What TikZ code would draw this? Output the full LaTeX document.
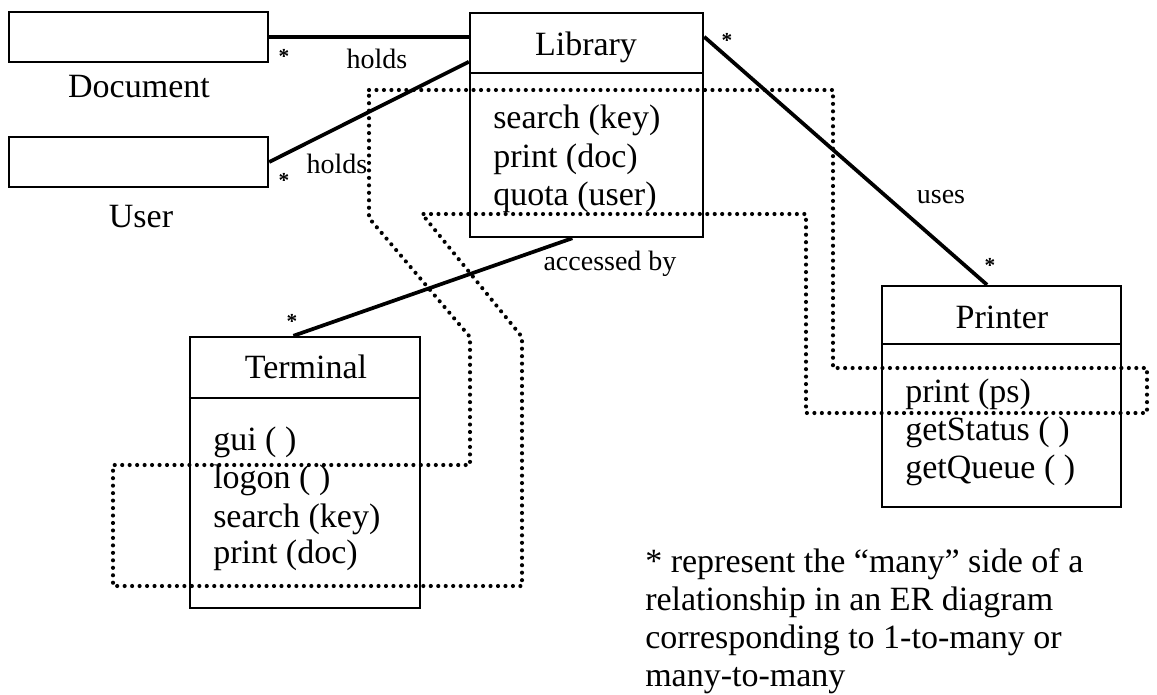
\documentclass[tikz,border=0pt]{standalone}
\usepackage{fontspec}
\setmainfont{Liberation Serif}
\usetikzlibrary{calc}
\begin{document}
\begin{tikzpicture}[x=0.75pt,y=-0.75pt,
  classbox/.style={draw,line width=1.8pt,rectangle,inner sep=0pt},
  link/.style={line width=2.8pt},
  divider/.style={line width=1.8pt},
  dots/.style={line width=3.1pt,line cap=round,dash pattern=on 0pt off 5.6pt},
  big/.style={font=\fontsize{25.5}{30}\selectfont,inner sep=0pt},
  small/.style={font=\fontsize{21}{25}\selectfont,inner sep=0pt},
  many/.style={font=\bfseries\fontsize{16}{20}\selectfont,inner sep=0pt},
]
\useasboundingbox (0,0) rectangle (1157,694);

% dotted outline grouping the operations
\draw[dots] (369,90) -- (833,90) -- (833,368) -- (1147,368) -- (1147,413)
  -- (806,413) -- (806,214) -- (422,214) -- (522,337) -- (522,586)
  -- (113,586) -- (113,465) -- (470,465) -- (470,337) -- (369,218) -- cycle;

% entity boxes
\node[classbox,minimum width=194.25pt,minimum height=37.5pt] (doc) at (138.5,37) {};
\node[classbox,minimum width=194.25pt,minimum height=37.5pt] (user) at (138.5,162) {};
\node[classbox,minimum width=174.75pt,minimum height=168pt] (lib) at (586.5,125) {};
\node[classbox,minimum width=172.5pt,minimum height=203.25pt] (term) at (305,472.5) {};
\node[classbox,minimum width=179.25pt,minimum height=165.75pt] (prn) at (1001.5,396.5) {};

% header dividers
\coordinate (libdiv) at (0,73);
\coordinate (termdiv) at (0,398);
\coordinate (prndiv) at (0,344);
\draw[divider] (lib.west |- libdiv) -- (lib.east |- libdiv);
\draw[divider] (term.west |- termdiv) -- (term.east |- termdiv);
\draw[divider] (prn.west |- prndiv) -- (prn.east |- prndiv);

% box captions
\node[big,anchor=base] (doclbl) at (139,97) {Document};
\node[big,anchor=base] (userlbl) at (141,227) {User};

\node[big,anchor=base] (libtitle) at (586,55) {Library};
\node[big,anchor=base west] (lib1) at (493,128) {search (key)};
\node[big,anchor=base west] (lib2) at (493,167) {print (doc)};
\node[big,anchor=base west] (lib3) at (493,205) {quota (user)};

\node[big,anchor=base] (termtitle) at (306,378) {Terminal};
\node[big,anchor=base west] (term1) at (213,450) {gui ( )};
\node[big,anchor=base west] (term2) at (213,488) {logon ( )};
\node[big,anchor=base west] (term3) at (213,527) {search (key)};
\node[big,anchor=base west] (term4) at (213,563) {print (doc)};

\node[big,anchor=base] (prntitle) at (1002,328) {Printer};
\node[big,anchor=base west] (prn1) at (905,402) {print (ps)};
\node[big,anchor=base west] (prn2) at (905,440) {getStatus ( )};
\node[big,anchor=base west] (prn3) at (905,478) {getQueue ( )};

% relationships
\draw[link] (doc.east) -- (doc.east -| lib.west);
\draw[link] (user.east) -- ($(lib.north west)+(0,50)$);
\draw[link] ($(term.north west)!0.45!(term.north east)$) -- ($(lib.south west)!0.44!(lib.south east)$);
\draw[link] ($(lib.north east)+(0,25)$) -- ($(prn.north west)!0.44!(prn.north east)$);

% relationship labels
\node[small,anchor=base] (r1) at (377,68) {holds};
\node[small,anchor=base] (r2) at (337,173) {holds};
\node[small,anchor=base] (r3) at (941,203) {uses};
\node[small,anchor=base] (r4) at (610,270) {accessed by};

% multiplicity marks
\node[many] (m1) at (284,56) {*};
\node[many] (m2) at (284,180) {*};
\node[many] (m3) at (727,40) {*};
\node[many] (m4) at (990,265) {*};
\node[many] (m5) at (292,321) {*};

% legend
\node[big,anchor=base west] (n1) at (645,572) {* represent the ``many'' side of a};
\node[big,anchor=base west] (n2) at (645,610) {relationship in an ER diagram};
\node[big,anchor=base west] (n3) at (645,648) {corresponding to 1-to-many or};
\node[big,anchor=base west] (n4) at (645,686) {many-to-many};
\end{tikzpicture}
\end{document}
